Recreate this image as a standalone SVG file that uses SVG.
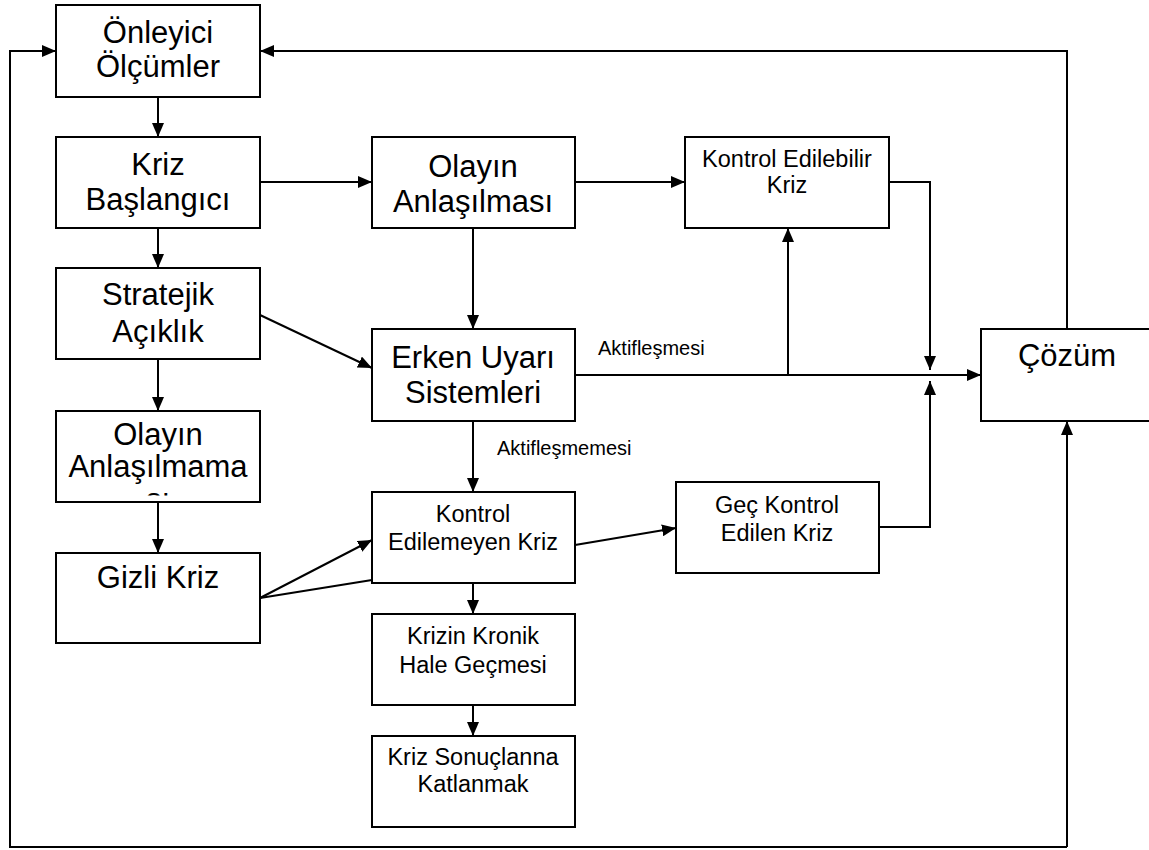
<svg xmlns="http://www.w3.org/2000/svg" width="1149" height="850" viewBox="0 0 1149 850">
  <style>
    .box { fill: #ffffff; stroke: #000000; stroke-width: 2; }
    .ln { fill: none; stroke: #000000; stroke-width: 2; }
    .arr { marker-end: url(#head); }
    text { font-family: "Liberation Sans", Arial, sans-serif; fill: #000000; text-anchor: middle; }
    .big { font-size: 31px; }
    .mid { font-size: 23.5px; }
    .lbl { font-size: 20px; text-anchor: start; }
  </style>
  <defs>
    <marker id="head" markerUnits="userSpaceOnUse" markerWidth="14" markerHeight="12" refX="14" refY="6" orient="auto">
      <path d="M0,0 L14,6 L0,12 Z" fill="#000000"/>
    </marker>
    <!-- text area of the box: the overflowing third line is cut off -->
    <clipPath id="clipAnl">
      <rect x="56" y="411" width="204" height="84.5"/>
    </clipPath>
  </defs>

  <!-- connectors -->
  <g id="connectors">
    <!-- left feedback loop -->
    <polyline class="ln arr" points="1067,847 10,847 10,51 56,51" />
    <line class="ln arr" x1="1067" y1="847" x2="1067" y2="421" />
    <!-- top feedback -->
    <polyline class="ln arr" points="1067,329 1067,51 260,51" />
    <!-- left column -->
    <line class="ln arr" x1="158" y1="97" x2="158" y2="137" />
    <line class="ln arr" x1="158" y1="228" x2="158" y2="268" />
    <line class="ln arr" x1="158" y1="359" x2="158" y2="411" />
    <line class="ln arr" x1="158" y1="502" x2="158" y2="553" />
    <!-- to middle column -->
    <line class="ln arr" x1="260" y1="182" x2="372" y2="182" />
    <line class="ln arr" x1="260" y1="315" x2="372" y2="368" />
    <line class="ln arr" x1="260" y1="598" x2="372" y2="540" />
    <line class="ln" x1="260" y1="598" x2="372" y2="580" />
    <!-- middle column -->
    <line class="ln arr" x1="473" y1="228" x2="473" y2="329" />
    <line class="ln arr" x1="473" y1="421" x2="473" y2="492" />
    <line class="ln arr" x1="473" y1="583" x2="473" y2="614" />
    <line class="ln arr" x1="473" y1="705" x2="473" y2="736" />
    <!-- to right -->
    <line class="ln arr" x1="575" y1="182" x2="685" y2="182" />
    <line class="ln arr" x1="575" y1="375" x2="981" y2="375" />
    <line class="ln arr" x1="788" y1="375" x2="788" y2="228" />
    <line class="ln arr" x1="575" y1="545" x2="676" y2="528" />
    <polyline class="ln arr" points="889,182 930,182 930,370" />
    <polyline class="ln arr" points="879,527 930,527 930,381" />
    <text class="lbl" x="598" y="355">Aktifleşmesi</text>
    <text class="lbl" x="497" y="455">Aktifleşmemesi</text>
  </g>

  <g id="onleyici">
    <rect class="box" x="56" y="5" width="204" height="92"/>
    <text class="big" x="158" y="43">Önleyici</text>
    <text class="big" x="158" y="77">Ölçümler</text>
  </g>
  <g id="kriz-baslangici">
    <rect class="box" x="56" y="137" width="204" height="91"/>
    <text class="big" x="158" y="175">Kriz</text>
    <text class="big" x="158" y="210">Başlangıcı</text>
  </g>
  <g id="stratejik">
    <rect class="box" x="56" y="268" width="204" height="91"/>
    <text class="big" x="158" y="305">Stratejik</text>
    <text class="big" x="158" y="342">Açıklık</text>
  </g>
  <g id="anlasilmamasi">
    <rect class="box" x="56" y="411" width="204" height="91"/>
    <text class="big" x="158" y="445">Olayın</text>
    <text class="big" x="158" y="477">Anlaşılmama</text>
    <text class="big" x="158" y="510" clip-path="url(#clipAnl)">sı</text>
  </g>
  <g id="gizli-kriz">
    <rect class="box" x="56" y="553" width="204" height="90"/>
    <text class="big" x="158" y="588">Gizli Kriz</text>
  </g>
  <g id="anlasilmasi">
    <rect class="box" x="372" y="137" width="203" height="91"/>
    <text class="big" x="473" y="177">Olayın</text>
    <text class="big" x="473" y="212">Anlaşılması</text>
  </g>
  <g id="erken-uyari">
    <rect class="box" x="372" y="329" width="203" height="92"/>
    <text class="big" x="473" y="368">Erken Uyarı</text>
    <text class="big" x="473" y="403">Sistemleri</text>
  </g>
  <g id="edilemeyen">
    <rect class="box" x="372" y="492" width="203" height="91"/>
    <text class="mid" x="473" y="522">Kontrol</text>
    <text class="mid" x="473" y="550">Edilemeyen Kriz</text>
  </g>
  <g id="kronik">
    <rect class="box" x="372" y="614" width="203" height="91"/>
    <text class="mid" x="473" y="644">Krizin Kronik</text>
    <text class="mid" x="473" y="673">Hale Geçmesi</text>
  </g>
  <g id="katlanmak">
    <rect class="box" x="372" y="736" width="203" height="91"/>
    <text class="mid" x="473" y="765">Kriz Sonuçlanna</text>
    <text class="mid" x="473" y="792">Katlanmak</text>
  </g>
  <g id="edilebilir">
    <rect class="box" x="685" y="137" width="204" height="91"/>
    <text class="mid" x="787" y="167">Kontrol Edilebilir</text>
    <text class="mid" x="787" y="193">Kriz</text>
  </g>
  <g id="gec-kontrol">
    <rect class="box" x="676" y="482" width="203" height="91"/>
    <text class="mid" x="777" y="513">Geç Kontrol</text>
    <text class="mid" x="777" y="541">Edilen Kriz</text>
  </g>
  <g id="cozum">
    <rect class="box" x="981" y="329" width="180" height="92"/>
    <text class="big" x="1067" y="366">Çözüm</text>
  </g>
</svg>
